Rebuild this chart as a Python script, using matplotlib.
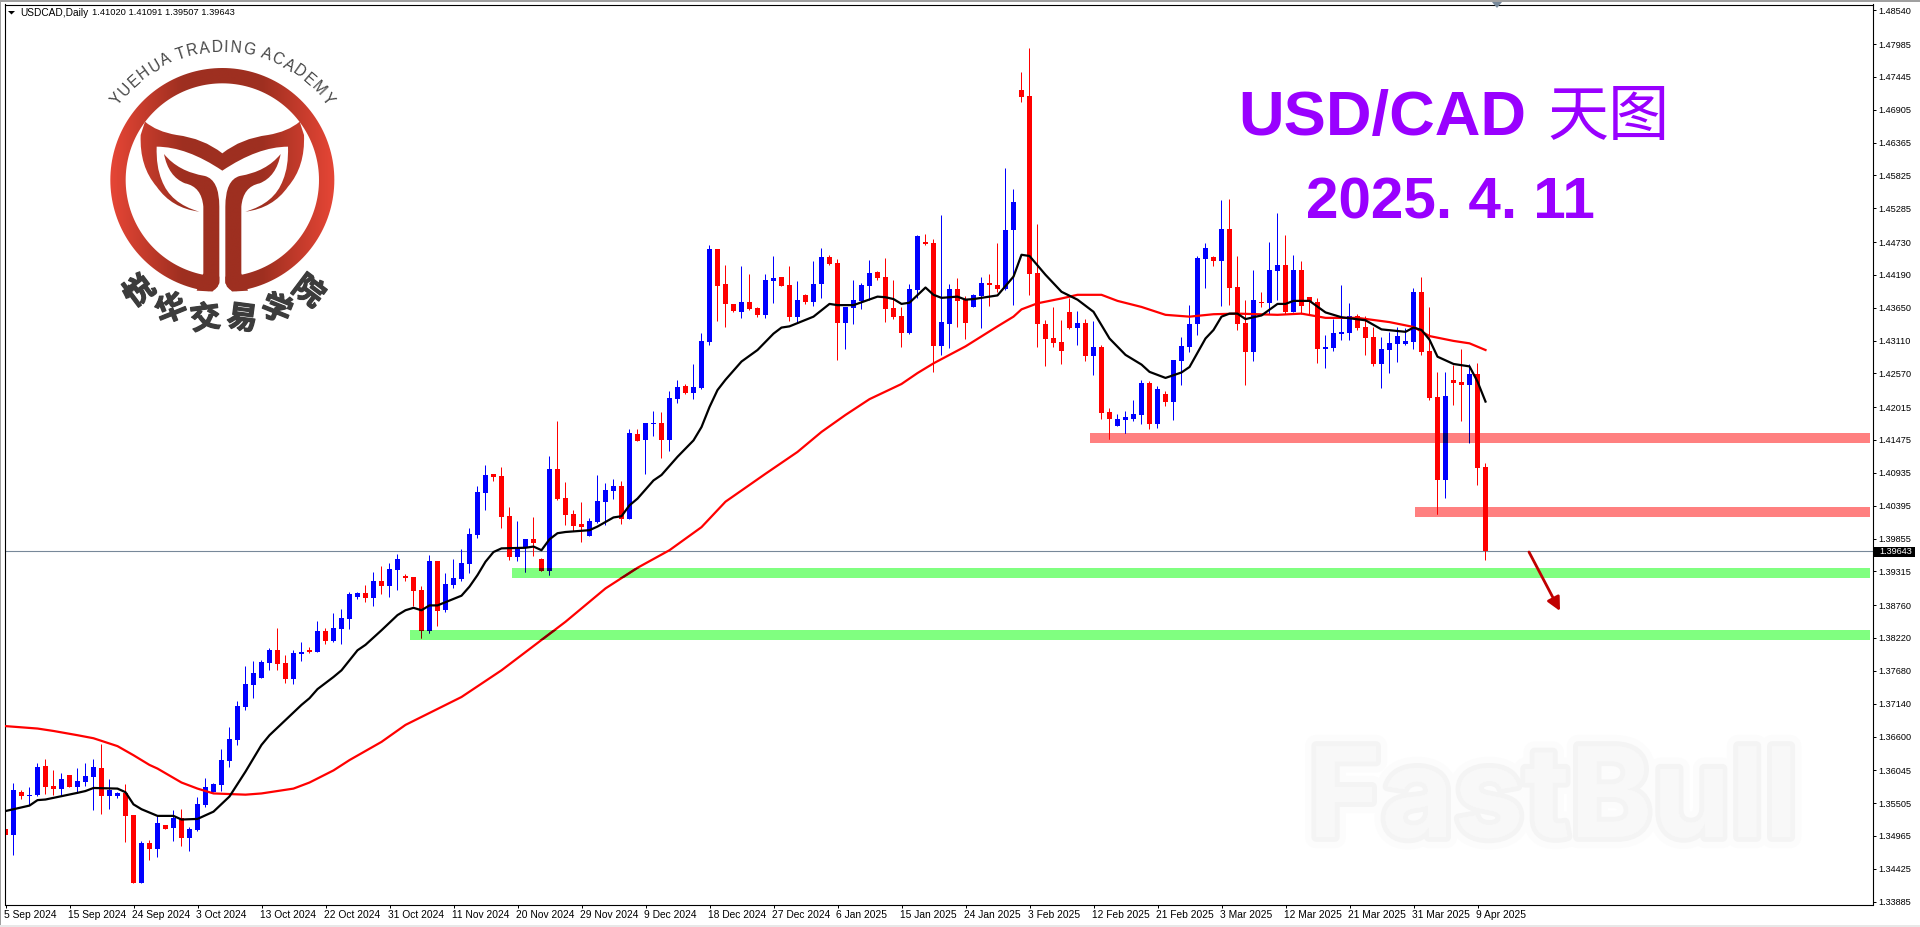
import numpy as np
import matplotlib
matplotlib.use("Agg")
import matplotlib.pyplot as plt
from matplotlib.patches import Rectangle, Polygon
from matplotlib.path import Path
from matplotlib.font_manager import FontProperties
from matplotlib.textpath import TextToPath
from matplotlib.transforms import ScaledTranslation
import matplotlib.patheffects as pe

W, H = 1920, 927

# ---------- values ----------
symbol = "USDCAD,Daily"
ohlc_header = "1.41020 1.41091 1.39507 1.39643"
last_price = 1.39643

opens = [
1.3505,1.3494,1.3565,1.3559,1.3560,1.3608,1.3575,1.3570,1.3593,1.3573,
1.3582,1.3590,1.3605,1.3559,1.3559,1.3564,1.3527,1.3415,1.3481,1.3471,
1.3511,1.3506,1.3522,1.3489,1.3503,1.3544,1.3565,1.3577,1.3616,1.3651,
1.3705,1.3742,1.3753,1.3778,1.3799,1.3778,1.3751,1.3793,1.3799,1.3796,
1.3831,1.3814,1.3834,1.3850,1.3887,1.3893,1.3885,1.3913,1.3905,1.3931,
1.3921,1.3920,1.3898,1.3831,1.3946,1.3865,1.3906,1.3916,1.3941,1.3989,
1.4058,1.4089,1.4086,1.4020,1.3953,1.3968,1.3982,1.3950,1.3930,1.4098,
1.4050,1.4024,1.4007,1.3987,1.4011,1.4043,1.4062,1.4070,1.4015,1.4156,
1.4146,1.4172,1.4174,1.4146,1.4213,1.4235,1.4223,1.4231,1.4307,1.4460,
1.4403,1.4370,1.4357,1.4373,1.4363,1.4352,1.4408,1.4414,1.4401,1.4348,
1.4385,1.4373,1.4403,1.4447,1.4437,1.4338,1.4363,1.4375,1.4400,1.4423,
1.4414,1.4363,1.4350,1.4322,1.4393,1.4472,1.4470,1.4301,1.4337,1.4395,
1.4376,1.4365,1.4383,1.4404,1.4401,1.4395,1.4492,1.4723,1.4713,1.4421,
1.4337,1.4314,1.4307,1.4357,1.4330,1.4339,1.4284,1.4299,1.4192,1.4169,
1.4179,1.4180,1.4187,1.4240,1.4172,1.4221,1.4208,1.4276,1.4299,1.4337,
1.4444,1.4447,1.4441,1.4494,1.4398,1.4339,1.4291,1.4373,1.4372,1.4424,
1.4434,1.4357,1.4426,1.4381,1.4373,1.4296,1.4297,1.4320,1.4322,1.4350,
1.4332,1.4315,1.4271,1.4294,1.4304,1.4304,1.4307,1.4390,1.4292,1.4217,
1.4080,1.4245,1.4241,1.4236,1.4254,1.4101]
closes = [
1.3494,1.3569,1.3559,1.3560,1.3606,1.3573,1.3570,1.3587,1.3573,1.3583,
1.3592,1.3606,1.3559,1.3569,1.3564,1.3526,1.3415,1.3481,1.3471,1.3514,
1.3504,1.3522,1.3489,1.3504,1.3545,1.3573,1.3578,1.3618,1.3653,1.3707,
1.3743,1.3761,1.3780,1.3799,1.3776,1.3751,1.3794,1.3796,1.3796,1.3831,
1.3814,1.3836,1.3852,1.3892,1.3893,1.3885,1.3913,1.3905,1.3933,1.3949,
1.3918,1.3897,1.3831,1.3946,1.3864,1.3908,1.3918,1.3943,1.3991,1.4060,
1.4088,1.4084,1.4019,1.3953,1.3968,1.3982,1.3976,1.3930,1.4098,1.4048,
1.4022,1.4004,1.4002,1.4012,1.4045,1.4063,1.4070,1.4015,1.4157,1.4144,
1.4174,1.4174,1.4146,1.4215,1.4233,1.4223,1.4233,1.4309,1.4460,1.4400,
1.4370,1.4358,1.4373,1.4362,1.4352,1.4409,1.4413,1.4400,1.4348,1.4376,
1.4373,1.4403,1.4447,1.4436,1.4338,1.4365,1.4376,1.4401,1.4421,1.4413,
1.4362,1.4348,1.4322,1.4395,1.4482,1.4469,1.4301,1.4340,1.4395,1.4375,
1.4338,1.4385,1.4404,1.4401,1.4395,1.4492,1.4538,1.4711,1.4419,1.4337,
1.4312,1.4306,1.4292,1.4330,1.4339,1.4284,1.4299,1.4190,1.4180,1.4180,
1.4184,1.4189,1.4240,1.4172,1.4230,1.4208,1.4278,1.4301,1.4337,1.4446,
1.4462,1.4441,1.4494,1.4396,1.4337,1.4291,1.4377,1.4372,1.4426,1.4434,
1.4357,1.4426,1.4367,1.4373,1.4296,1.4299,1.4322,1.4324,1.4350,1.4330,
1.4314,1.4271,1.4296,1.4306,1.4317,1.4309,1.4390,1.4291,1.4215,1.4080,
1.4218,1.4240,1.4236,1.4254,1.4100,1.3962]
highs = [
1.3522,1.3580,1.3569,1.3574,1.3614,1.3620,1.3601,1.3597,1.3593,1.3605,
1.3613,1.3620,1.3644,1.3587,1.3565,1.3578,1.3527,1.3484,1.3486,1.3525,
1.3511,1.3536,1.3537,1.3507,1.3557,1.3588,1.3580,1.3636,1.3672,1.3715,
1.3773,1.3781,1.3783,1.3803,1.3836,1.3791,1.3799,1.3812,1.3804,1.3847,
1.3836,1.3860,1.3867,1.3895,1.3895,1.3906,1.3928,1.3938,1.3943,1.3958,
1.3925,1.3920,1.3905,1.3956,1.3946,1.3926,1.3949,1.3966,1.4000,1.4070,
1.4104,1.4089,1.4101,1.4035,1.4012,1.3982,1.4019,1.3951,1.4119,1.4177,
1.4076,1.4030,1.4043,1.4017,1.4088,1.4075,1.4081,1.4078,1.4164,1.4164,
1.4174,1.4193,1.4192,1.4226,1.4245,1.4238,1.4271,1.4322,1.4467,1.4460,
1.4434,1.4370,1.4432,1.4419,1.4365,1.4419,1.4449,1.4414,1.4432,1.4408,
1.4386,1.4441,1.4462,1.4451,1.4444,1.4365,1.4409,1.4404,1.4442,1.4424,
1.4446,1.4409,1.4365,1.4403,1.4484,1.4485,1.4477,1.4517,1.4403,1.4413,
1.4383,1.4386,1.4414,1.4419,1.4470,1.4594,1.4559,1.4752,1.4792,1.4502,
1.4344,1.4365,1.4344,1.4380,1.4358,1.4345,1.4342,1.4302,1.4198,1.4188,
1.4193,1.4212,1.4245,1.4243,1.4235,1.4226,1.4278,1.4316,1.4368,1.4449,
1.4470,1.4449,1.4541,1.4543,1.4449,1.4377,1.4426,1.4390,1.4472,1.4520,
1.4484,1.4451,1.4441,1.4381,1.4380,1.4319,1.4345,1.4401,1.4371,1.4353,
1.4350,1.4332,1.4315,1.4324,1.4332,1.4330,1.4396,1.4414,1.4365,1.4258,
1.4258,1.4269,1.4296,1.4271,1.4273,1.4108]
lows = [
1.3494,1.3461,1.3554,1.3544,1.3558,1.3562,1.3560,1.3560,1.3573,1.3565,
1.3575,1.3536,1.3529,1.3537,1.3555,1.3483,1.3415,1.3415,1.3453,1.3458,
1.3504,1.3484,1.3476,1.3468,1.3501,1.3540,1.3565,1.3567,1.3606,1.3643,
1.3700,1.3720,1.3753,1.3766,1.3766,1.3745,1.3743,1.3781,1.3794,1.3796,
1.3809,1.3812,1.3809,1.3834,1.3883,1.3878,1.3872,1.3891,1.3887,1.3898,
1.3913,1.3872,1.3819,1.3827,1.3839,1.3862,1.3901,1.3913,1.3926,1.3984,
1.4030,1.4078,1.4001,1.3948,1.3946,1.3928,1.3954,1.3930,1.3923,1.4047,
1.4005,1.3996,1.3978,1.3987,1.4009,1.4005,1.4048,1.4007,1.4015,1.4144,
1.4090,1.4152,1.4116,1.4128,1.4207,1.4221,1.4213,1.4230,1.4302,1.4342,
1.4332,1.4357,1.4347,1.4360,1.4348,1.4347,1.4372,1.4400,1.4342,1.4338,
1.4370,1.4366,1.4380,1.4434,1.4277,1.4296,1.4337,1.4362,1.4376,1.4409,
1.4340,1.4345,1.4299,1.4320,1.4380,1.4467,1.4258,1.4286,1.4297,1.4332,
1.4312,1.4365,1.4330,1.4367,1.4390,1.4393,1.4368,1.4703,1.4385,1.4299,
1.4268,1.4299,1.4271,1.4329,1.4302,1.4276,1.4253,1.4180,1.4147,1.4169,
1.4157,1.4177,1.4172,1.4164,1.4165,1.4202,1.4179,1.4236,1.4291,1.4319,
1.4396,1.4432,1.4367,1.4368,1.4327,1.4236,1.4276,1.4365,1.4353,1.4377,
1.4353,1.4357,1.4353,1.4353,1.4273,1.4264,1.4292,1.4310,1.4310,1.4327,
1.4286,1.4268,1.4231,1.4256,1.4274,1.4302,1.4296,1.4286,1.4212,1.4024,
1.4050,1.4203,1.4177,1.4141,1.4071,1.3948]

fast_bars = [0,2,3,4,5,9,10,11,14,15,16,17,19,21,22,24,26,28,30,32,33,35,37,38,39,41,42,44,45,47,49,50,
51,52,53,54,57,58,59,60,61,62,65,66,67,68,69,70,73,74,76,77,78,79,81,82,84,86,87,88,89,90,92,94,96,97,98,
101,103,104,106,109,110,111,112,113,115,116,117,119,120,121,124,126,127,128,130,132,134,136,138,140,142,143,
145,147,148,150,151,152,153,154,155,157,159,160,161,163,165,167,170,172,175,176,177,178,179,181,183,184,185]
fast_ma = [1.3534,1.3540,1.3543,1.3552,1.3553,1.3564,1.3567,1.3572,1.3571,1.3565,1.3545,1.3537,1.3526,1.3526,
1.3520,1.3521,1.3533,1.3558,1.3599,1.3643,1.3659,1.3684,1.3709,1.3720,1.3735,1.3755,1.3766,1.3799,1.3808,
1.3832,1.3857,1.3865,1.3869,1.3865,1.3873,1.3873,1.3889,1.3904,1.3923,1.3945,1.3961,1.3967,1.3968,1.3970,
1.3964,1.3982,1.3992,1.3994,1.3997,1.4003,1.4018,1.4020,1.4038,1.4049,1.4079,1.4088,1.4118,1.4145,1.4167,
1.4200,1.4228,1.4245,1.4275,1.4294,1.4321,1.4331,1.4333,1.4349,1.4370,1.4368,1.4368,1.4382,1.4381,1.4378,
1.4370,1.4372,1.4397,1.4385,1.4380,1.4382,1.4377,1.4378,1.4384,1.4415,1.4451,1.4449,1.4418,1.4390,1.4377,
1.4357,1.4313,1.4286,1.4270,1.4258,1.4248,1.4257,1.4266,1.4313,1.4327,1.4349,1.4354,1.4354,1.4345,1.4351,
1.4370,1.4370,1.4375,1.4375,1.4356,1.4348,1.4343,1.4328,1.4324,1.4331,1.4327,1.4311,1.4283,1.4271,1.4267,
1.4242,1.4209]

slow_bars = [0,4,6,9,11,14,16,18,19,22,24,26,30,32,36,38,41,43,47,50,57,62,70,75,79,83,87,90,95,99,102,105,108,
112,114,116,120,124,126,127,129,132,134,137,139,142,145,148,151,154,159,162,165,169,173,176,178,181,183,185]
slow_ma = [1.3674,1.3670,1.3666,1.3659,1.3654,1.3641,1.3626,1.3610,1.3604,1.3581,1.3571,1.3563,1.3561,1.3563,
1.3571,1.3581,1.3601,1.3618,1.3648,1.3676,1.3722,1.3766,1.3846,1.3901,1.3935,1.3964,1.4002,1.4044,1.4090,
1.4126,1.4159,1.4187,1.4213,1.4238,1.4256,1.4272,1.4300,1.4333,1.4349,1.4361,1.4371,1.4379,1.4385,1.4385,
1.4375,1.4365,1.4352,1.4349,1.4353,1.4354,1.4352,1.4354,1.4347,1.4347,1.4340,1.4332,1.4317,1.4309,1.4305,1.4294]

# support (green) and resistance (pink) zones: start bar, lower price, upper price
pink_start = [135.6, 176.2]
pink_low = [1.41426, 1.40209]
pink_high = [1.41590, 1.40373]
green_start = [63.3, 50.6]
green_low = [1.39206, 1.38187]
green_high = [1.39371, 1.38351]

y_ticks = [1.48540,1.47985,1.47445,1.46905,1.46365,1.45825,1.45285,1.44730,1.44190,1.43650,1.43110,1.42570,
           1.42015,1.41475,1.40935,1.40395,1.39855,1.39315,1.38760,1.38220,1.37680,1.37140,1.36600,1.36045,
           1.35505,1.34965,1.34425,1.33885]
date_labels = ["5 Sep 2024","15 Sep 2024","24 Sep 2024","3 Oct 2024","13 Oct 2024","22 Oct 2024","31 Oct 2024",
               "11 Nov 2024","20 Nov 2024","29 Nov 2024","9 Dec 2024","18 Dec 2024","27 Dec 2024","6 Jan 2025",
               "15 Jan 2025","24 Jan 2025","3 Feb 2025","12 Feb 2025","21 Feb 2025","3 Mar 2025","12 Mar 2025",
               "21 Mar 2025","31 Mar 2025","9 Apr 2025"]
date_step = 8

# the candle and average readings were taken against a slightly different scale; bring them to the axis labels
def to_axis(v):
    v = np.asarray(v, float)
    return 1.4871 + (v - 1.4871) * 0.99733 - 0.00001

opens_p, highs_p, lows_p, closes_p = map(to_axis, (opens, highs, lows, closes))
fast_p, slow_p = to_axis(fast_ma), to_axis(slow_ma)
bars = np.arange(len(opens))
assert len(opens) == len(closes) == len(highs) == len(lows) == 186
assert len(fast_bars) == len(fast_ma) and len(slow_bars) == len(slow_ma)

# ---------- figure ----------
plt.rcParams['font.family'] = ['Liberation Sans', 'DejaVu Sans']
fig = plt.figure(figsize=(W/100, H/100), dpi=100, facecolor='white')

L_px, R_px, T_px, B_px = 4.5, 1872.5, 4.5, 904.5
ax = fig.add_axes([L_px/W, 1-B_px/H, (R_px-L_px)/W, (B_px-T_px)/H], facecolor='white')
ax.set_xlim((L_px-5.5)/8, (R_px-5.5)/8)
price_at = lambda y: 1.48709 - y*0.00016441
ax.set_ylim(price_at(B_px), price_at(T_px))
for s in ax.spines.values():
    s.set_linewidth(0.8); s.set_color('black')

ax.yaxis.tick_right()
ax.set_yticks(y_ticks)
ax.set_yticklabels([f"{t:.5f}" for t in y_ticks], fontsize=6.6)
ax.tick_params(axis='y', length=2.5, width=0.72, pad=2)
ax.set_xticks(np.arange(len(date_labels))*date_step)
ax.set_xticklabels(date_labels, fontsize=7.4, ha='left')
ax.tick_params(axis='x', length=2.3, width=0.72, pad=1.6)
shift = ScaledTranslation(-1.5/100, 0, fig.dpi_scale_trans)
for lab in ax.get_xticklabels():
    lab.set_transform(lab.get_transform() + shift)

def candles(mask, up_col, down_col, z, clip=None):
    up = closes_p >= opens_p
    cols = np.where(up, up_col, down_col)
    xs = bars[mask]
    # the slight nudge makes the one-pixel wick land on the middle pixel of the body
    w = ax.vlines(xs - 0.06, lows_p[mask], highs_p[mask], colors=list(cols[mask]), lw=0.72, zorder=z)
    w.set_snap(True)
    b = ax.bar(xs, np.abs(closes_p-opens_p)[mask], bottom=np.minimum(opens_p, closes_p)[mask], width=0.625,
               color=list(cols[mask]), linewidth=0, zorder=z+0.1, antialiased=False)
    if clip is not None:
        w.set_clip_path(clip)
        for p in b:
            p.set_clip_path(clip)

all_mask = np.ones(len(bars), bool)
candles(all_mask, '#0000FF', '#FF0000', 2)

ax.axhline(last_price, color='#778899', lw=0.8, zorder=1.5)

ax.plot(fast_bars, fast_p, color='black', lw=1.6, zorder=5, solid_joinstyle='round')
ax.plot(slow_bars, slow_p, color='#FF0000', lw=1.6, zorder=4.5, solid_joinstyle='round')

right_end = 233.1
for st, lo, hi in zip(pink_start, pink_low, pink_high):
    r = Rectangle((st, lo), right_end-st, hi-lo, fc='#FF8080', ec='none', zorder=1)
    ax.add_patch(r)
    # chart objects mix with what lies beneath them
    candles((highs_p > lo) & (lows_p < hi) & (bars >= st), '#000080', '#FF0000', 3, clip=r)
for st, lo, hi in zip(green_start, green_low, green_high):
    r = Rectangle((st, lo), right_end-st, hi-lo, fc='#80FF80', ec='none', zorder=1)
    ax.add_patch(r)
    candles((highs_p > lo) & (lows_p < hi) & (bars >= st), '#000080', '#800000', 3, clip=r)
    ln, = ax.plot(slow_bars, slow_p, color='#800000', lw=1.6, zorder=4.6)
    ln.set_clip_path(r)

# ---------- overlay in picture pixels: captions, logo, frame ----------
ov = fig.add_axes([0, 0, 1, 1], facecolor='none', zorder=10)
ov.set_xlim(0, W); ov.set_ylim(H, 0); ov.axis('off')

# window edges
ov.add_patch(Rectangle((0, 0), W, 1.6, fc='#A0A0A0', ec='none'))
ov.add_patch(Rectangle((0, 0), 1.4, H, fc='#A0A0A0', ec='none'))
ov.add_patch(Rectangle((0, 925), W, 2, fc='#E8E8E8', ec='none'))
ov.add_patch(Polygon([(1492, 2), (1502, 2), (1497, 8)], fc='#778899', ec='none'))

# header
ov.add_patch(Polygon([(8, 11), (15, 11), (11.5, 14.5)], fc='black', ec='none'))
ov.text(20, 12.8, symbol, fontsize=7.3, va='center', ha='left', color='black')
ov.text(92, 12.8, ohlc_header, fontsize=6.7, va='center', ha='left', color='black')

# current price tag
ov.add_patch(Rectangle((1874, 546.6), 41, 10, fc='black', ec='none'))
ov.text(1879, 551.8, f"{last_price:.5f}", fontsize=6.6, color='white', va='center', ha='left')

# captions
PURPLE = '#9900FF'
ov.text(1238, 135, "USD/CAD", fontsize=45.5, fontweight='bold', color=PURPLE, va='baseline', ha='left')
ov.text(1609, 135, "天图", fontsize=44, color=PURPLE, va='baseline', ha='center',
        family=['Noto Sans CJK SC', 'DejaVu Sans'])
ov.text(1306, 218, "2025. 4. 11", fontsize=42, fontweight='bold', color=PURPLE, va='baseline', ha='left')

# arrow
ov.annotate("", xy=(1560, 611), xytext=(1529, 552),
            arrowprops=dict(arrowstyle='-|>', color='#C00000', lw=2.0, mutation_scale=20, shrinkA=0, shrinkB=0))

# watermark
ov.text(1308, 837, "FastBull", fontsize=90, fontweight='bold', family=['Inter', 'Liberation Sans'],
        color='#F8F8F8', va='baseline', ha='left', zorder=0.5,
        path_effects=[pe.withStroke(linewidth=16, foreground='#FCFCFC'),
                      pe.withStroke(linewidth=7, foreground='#F4F4F4'),
                      pe.Normal()])

# logo
def zp(u, v):
    return (90 + u/3, 20 + v/3)

def quad_path(start, segs, mirror=False):
    verts = [start]; codes = [Path.MOVETO]
    for s in segs:
        if len(s) == 2:
            verts.append(s[0]); verts.append(s[1]); codes += [Path.CURVE3, Path.CURVE3]
        else:
            verts.append(s[0]); codes.append(Path.LINETO)
    verts.append(start); codes.append(Path.CLOSEPOLY)
    verts = [zp(2*397-u if mirror else u, v) for u, v in verts]
    return Path(verts, codes)

th = np.linspace(0, 2*np.pi, 181)
cx, cy = zp(397, 480)
R_o, R_i = 336/3, 290/3
ring_v = np.vstack([np.c_[cx+R_o*np.cos(th), cy+R_o*np.sin(th)], np.c_[cx+R_i*np.cos(th[::-1]), cy+R_i*np.sin(th[::-1])]])
ring_c = np.r_[[Path.MOVETO], [Path.LINETO]*180, [Path.MOVETO], [Path.LINETO]*180]
ring = Path(ring_v, ring_c)

tail = quad_path((397, 400), [
    ((340, 355), (260, 345)), ((200, 335), (165, 305)), ((152, 345),),
    ((148, 440), (200, 500)), ((245, 565), (328, 575)),
    ((240, 550), (215, 480)), ((198, 440), (200, 380)),
    ((290, 380), (397, 452)), ((504, 380), (594, 380)),
    ((596, 440), (579, 480)), ((554, 550), (466, 575)),
    ((549, 565), (594, 500)), ((646, 440), (642, 345)), ((629, 305),),
    ((594, 335), (534, 345)), ((454, 355), (397, 400))])
stem = [(222, 402), [((265, 455), (345, 468)), ((388, 480), (388, 560)), ((388, 780),),
                     ((388, 812), (355, 814)), ((320, 812),), ((340, 760),), ((340, 560),),
                     ((335, 500), (285, 490)), ((235, 470), (222, 402))]]
stem_l = quad_path(stem[0], stem[1])
stem_r = quad_path(stem[0], stem[1], mirror=True)

grad = np.abs(np.linspace(-1, 1, 256))[None, :]
c0, c1 = np.array([0x9E, 0x2F, 0x20])/255, np.array([0xE6, 0x46, 0x36])/255
ramp = np.clip((grad-0.35)/0.65, 0, 1)[..., None]
grad_img = c0*(1-ramp) + c1*ramp
ims = []
im = ov.imshow(grad_img, extent=(cx-R_o, cx+R_o, cy+R_o, cy-R_o), aspect='auto', interpolation='bilinear', zorder=2)
im.set_clip_path(ring, transform=ov.transData)
ov.set_xlim(0, W); ov.set_ylim(H, 0)
ov.add_patch(Polygon([zp(*p) for p in [(388, 755), (388, 790), (362, 822), (432, 822), (406, 790), (406, 755)]],
                     fc='white', ec='none', zorder=2.5))
for pth in (tail, stem_l, stem_r):
    im = ov.imshow(grad_img, extent=(cx-R_o, cx+R_o, cy+R_o, cy-R_o), aspect='auto', interpolation='bilinear', zorder=3)
    im.set_clip_path(pth, transform=ov.transData)
ov.set_xlim(0, W); ov.set_ylim(H, 0)

# lettering round the logo
fp = FontProperties(family='Liberation Sans', size=11.2)
t2p = TextToPath()
arc_text = "YUEHUA TRADING ACADEMY"
wid = [t2p.get_text_width_height_descent(c, fp, False)[0] for c in arc_text]
total = sum(wid)
R_txt = 128.0
span = 110.0
pos = 0.0
for c, w_ in zip(arc_text, wid):
    a = -span/2 + span*(pos + w_/2)/total
    pos += w_
    if c == ' ':
        continue
    ar = np.deg2rad(a)
    ov.text(cx + R_txt*np.sin(ar), cy - R_txt*np.cos(ar), c, fontproperties=fp, color='#444444', rotation=-a,
            rotation_mode='anchor', ha='center', va='baseline', zorder=4)

cn_text = "悦华交易学院"
cn_angles = [37, 22, 7.5, -7.5, -22, -37]
for c, a in zip(cn_text, cn_angles):
    ar = np.deg2rad(a)
    ov.text(cx + 1.5 - 140*np.sin(ar), cy + 140*np.cos(ar), c, fontsize=22, fontweight='bold',
            family=['Noto Sans CJK SC', 'DejaVu Sans'], color='#3C3C3C', rotation=a,
            rotation_mode='anchor', ha='center', va='center', zorder=4,
            path_effects=[pe.withStroke(linewidth=0.9, foreground='#3C3C3C')])

fig.savefig('out.png', dpi=100, facecolor='white')
